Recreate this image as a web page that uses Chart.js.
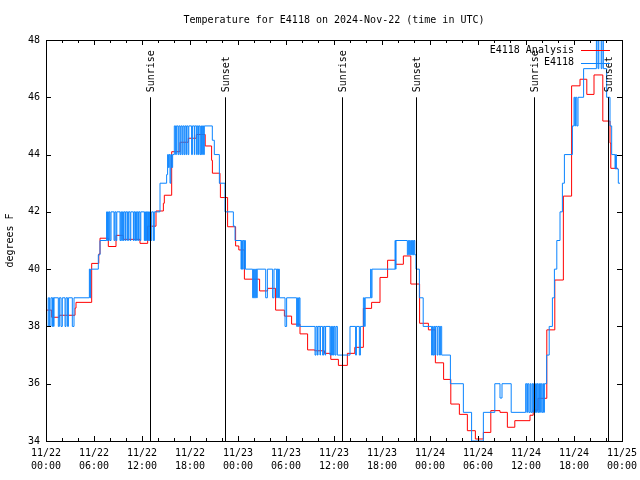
<!DOCTYPE html>
<html>
<head>
<meta charset="utf-8">
<script src="https://cdn.jsdelivr.net/npm/chart.js@4.4.1/dist/chart.umd.min.js"></script>
<style>
  html, body { margin: 0; padding: 0; background: #ffffff; }
  #wrap { width: 640px; height: 480px; }
</style>
</head>
<body>
<div id="wrap"><canvas id="c" width="640" height="480"></canvas></div>
<script>
// ---- Data (hours since 2024-11-22 00:00 UTC) ----
const obsTime = [0,0.08,0.29,0.45,0.62,0.79,0.85,0.95,1.0,1.54,1.67,1.88,2.04,2.38,2.5,2.7,2.8,3.29,3.5,
  5.42,5.5,5.58,6.54,6.75,7.58,7.65,7.72,7.79,7.9,8.0,8.13,8.5,8.6,8.75,8.85,9.25,9.35,9.46,9.55,9.67,9.75,9.92,10.0,
  10.2,10.3,10.5,10.6,10.92,11.0,11.13,11.2,11.33,11.4,11.54,11.6,11.75,11.85,12.29,12.35,12.42,12.5,12.58,12.67,
  12.79,12.85,12.92,13.0,13.08,13.21,13.42,13.54,14.25,15.08,15.2,15.3,15.4,15.5,15.6,15.7,15.83,16.04,16.2,16.3,
  16.5,16.6,16.75,16.85,17.0,17.1,17.25,17.35,17.5,17.58,17.75,17.85,18.2,18.3,18.54,18.6,18.83,18.9,19.04,19.1,
  19.25,19.35,19.45,19.55,19.7,19.79,20.79,21.04,21.67,22.38,23.42,23.63,24.38,24.45,24.55,24.65,24.79,24.85,24.92,
  25.83,25.95,26.05,26.2,26.33,26.4,27.46,27.67,28.33,28.5,28.83,28.9,29.0,29.05,29.17,29.88,30.08,31.33,31.45,31.55,
  31.65,31.75,33.63,33.75,33.92,34.0,34.25,34.3,34.58,34.7,34.88,34.95,35.5,35.6,35.7,35.8,35.92,36.0,36.13,36.25,
  36.42,38.0,38.7,38.8,39.17,39.3,39.67,39.8,39.9,40.58,40.65,40.75,43.63,43.7,43.75,45.17,45.3,45.45,45.58,45.7,
  45.8,45.92,46.0,46.1,46.25,46.67,47.15,48.2,48.3,48.4,48.5,48.6,48.7,48.9,49.0,49.2,49.3,49.46,50.55,52.17,53.2,
  54.67,56.1,56.75,57.0,58.15,59.96,60.1,60.2,60.35,60.5,60.6,60.75,60.85,60.95,61.1,61.2,61.3,61.4,61.5,61.6,61.7,
  61.8,61.96,62.1,62.2,62.3,62.58,62.9,63.3,63.55,63.85,64.25,64.55,64.8,65.8,66.0,66.1,66.2,66.35,66.5,67.2,68.8,
  68.9,69.0,69.1,69.2,69.3,69.4,69.5,69.67,70.08,70.5,70.71,71.13,71.2,71.3,71.54,71.75];
const obsTemp = [39,38,39,38,39,38,39,38,39,38,39,38,39,38,39,38,39,38,39,
  40,39,40,40.5,41,42,41,42,41,42,41,42,41,42,41,42,41,42,41,42,41,42,41,42,
  41,42,41,42,41,42,41,42,41,42,41,42,41,42,41,42,41,42,41,42,
  41,42,41,42,41,42,41,42,43,43.3,44,43.55,44,43,44,43.55,44,45,44,45,
  44,45,44,45,44,45,44,45,44,45,44,45,44,45,44,45,44,45,44,45,
  44,45,44,45,44,45,44.5,44,43,42,41.5,41,40,41,40,41,40,41,40,
  39,40,39,40,39,40,39,40,39,40,39,40,39,40,39,38,39,38,39,38,
  39,38,37,38,37,38,37,38,37,38,37,38,37,38,37,38,37,38,37,38,
  37,38,37,38,37,38,39,38,39,40,39,40,41,40,41,40.5,41,40.5,41,40.5,
  41,40.5,41,40.5,40,39,38,37,38,37,38,37,38,37,38,37,38,37,36,35,34,
  35,36,35.5,36,35,36,35,36,35,36,35,36,35,36,35,36,35,36,35,36,35,
  36,35,36,35,36,37,38,39,40,41,42,43,44,45,46,45,46,45,46,47,48,
  49,47,49,48,49,47,49,47,46,45,44,43.5,44,43.5,43,43];

const anaTime = [0,0.71,1.67,3.63,3.75,5.71,6.6,6.75,7.79,8.75,9.67,11.75,12.71,13.75,14.67,14.79,15.71,16.75,17.79,
  18.79,19.9,20.7,20.8,21.75,21.8,22.7,23.7,24.1,24.8,26.7,27.7,28.7,29.8,30.7,31.75,32.7,33.6,34.8,35.6,36.55,37.67,
  38.6,39.67,40.7,41.75,42.7,43.7,44.67,45.6,46.7,47.8,48.67,49.7,50.6,51.67,52.67,53.67,54.67,55.6,56.75,57.67,58.6,
  60.5,60.9,61.5,62.6,63.6,64.67,65.7,66.75,67.6,68.5,69.6,70.5,70.6,71.5];
const anaTemp = [38.57,38.32,38.39,38.64,38.84,40.2,40.53,41.08,40.79,41.18,41.04,40.9,41.5,42.03,42.3,42.58,44.1,44.43,44.57,
  44.7,44.3,43.8,43.35,42.97,42.5,41.48,40.81,40.67,39.65,39.24,39.33,38.57,38.36,38.08,37.74,37.18,37.15,37.06,36.85,36.64,37.06,
  37.27,38.63,38.84,39.71,40.31,40.17,40.46,39.48,38.11,37.88,36.73,36.15,35.29,34.93,34.36,34.07,34.3,35.06,35.0,34.48,34.71,
  34.9,35.08,35.49,37.88,39.62,42.55,46.4,46.63,46.1,46.78,45.17,44.4,43.52,43.52];

const sunTime  = [13.04, 22.4, 37.04, 46.27, 61.04, 70.3];
const sunLabel = ['Sunrise','Sunset','Sunrise','Sunset','Sunrise','Sunset'];
const sunFrom = 34, sunTo = 46;

const xTickHours = [0,6,12,18,24,30,36,42,48,54,60,66,72];
const xTickDates = ['11/22','11/22','11/22','11/22','11/23','11/23','11/23','11/23','11/24','11/24','11/24','11/24','11/25'];
const xTickTimes = ['00:00','06:00','12:00','18:00','00:00','06:00','12:00','18:00','00:00','06:00','12:00','18:00','00:00'];
const yTicks = [34,36,38,40,42,44,46,48];

const seriesNames = ['E4118 Analysis', 'E4118'];
const titleText = 'Temperature for E4118 on 2024-Nov-22 (time in UTC)';
const yTitle = 'degrees F';

const RED = '#ff0000', BLUE = '#0a84ff';
const FONT = '10px "DejaVu Sans Mono", "Liberation Mono", monospace';

Chart.defaults.font.family = '"DejaVu Sans Mono", "Liberation Mono", monospace';
Chart.defaults.font.size = 10;
Chart.defaults.color = '#000';

const decor = {
  id: 'decor',
  afterDatasetsDraw(chart) {
    const {ctx, chartArea: a, scales: {x, y}} = chart;
    ctx.save();
    ctx.strokeStyle = '#000';
    ctx.lineWidth = 1;
    ctx.fillStyle = '#000';
    ctx.font = FONT;
    // sunrise/sunset markers
    sunTime.forEach((t, i) => {
      const px = Math.round(x.getPixelForValue(t)) + 0.5;
      const yb = y.getPixelForValue(sunFrom), yt = y.getPixelForValue(sunTo);
      ctx.beginPath(); ctx.moveTo(px, yb); ctx.lineTo(px, yt); ctx.stroke();
      ctx.save();
      ctx.translate(px + 1, yt - 5);
      ctx.rotate(-Math.PI / 2);
      ctx.textAlign = 'left'; ctx.textBaseline = 'middle';
      ctx.fillText(sunLabel[i], 0, 0);
      ctx.restore();
    });
    // frame
    ctx.strokeRect(a.left + 0.5, a.top + 0.5, a.right - a.left, a.bottom - a.top);
    // x ticks (major 6h, minor 2h) bottom and top
    for (let h = 0; h <= 72; h += 2) {
      const px = Math.round(x.getPixelForValue(h)) + 0.5;
      const len = (h % 6 === 0) ? 5 : 3;
      ctx.beginPath();
      ctx.moveTo(px, a.bottom); ctx.lineTo(px, a.bottom - len);
      ctx.moveTo(px, a.top); ctx.lineTo(px, a.top + len);
      ctx.stroke();
    }
    // y ticks left and right
    yTicks.forEach(v => {
      const py = Math.round(y.getPixelForValue(v)) + 0.5;
      ctx.beginPath();
      ctx.moveTo(a.left, py); ctx.lineTo(a.left + 5, py);
      ctx.moveTo(a.right, py); ctx.lineTo(a.right - 5, py);
      ctx.stroke();
    });
    // title
    ctx.textAlign = 'center'; ctx.textBaseline = 'middle';
    ctx.fillText(titleText, (a.left + a.right) / 2, 20);
    // y title
    ctx.save();
    ctx.translate(10, (a.top + a.bottom) / 2);
    ctx.rotate(-Math.PI / 2);
    ctx.fillText(yTitle, 0, 0);
    ctx.restore();
    // legend
    const cols = [RED, BLUE];
    seriesNames.forEach((n, i) => {
      const ly = 50 + i * 12.5;
      ctx.textAlign = 'right'; ctx.textBaseline = 'middle';
      ctx.fillStyle = '#000';
      ctx.fillText(n, 574, ly);
      ctx.strokeStyle = cols[i];
      ctx.beginPath(); ctx.moveTo(581, Math.round(ly) + 0.5); ctx.lineTo(610, Math.round(ly) + 0.5); ctx.stroke();
    });
    ctx.restore();
  }
};

new Chart(document.getElementById('c'), {
  type: 'line',
  data: {
    datasets: [
      {
        label: seriesNames[1],
        data: obsTime.map((t, i) => ({x: t, y: obsTemp[i]})),
        borderColor: BLUE, borderWidth: 1, pointRadius: 0, stepped: 'before', fill: false
      },
      {
        label: seriesNames[0],
        data: anaTime.map((t, i) => ({x: t, y: anaTemp[i]})),
        borderColor: RED, borderWidth: 1, pointRadius: 0, stepped: 'before', fill: false
      }
    ]
  },
  options: {
    responsive: false,
    animation: false,
    devicePixelRatio: 1,
    layout: { padding: { top: 40, right: 18, left: 0, bottom: 0 } },
    plugins: { legend: { display: false }, title: { display: false }, tooltip: { enabled: false } },
    scales: {
      x: {
        type: 'linear', min: 0, max: 72,
        grid: { display: false, drawTicks: false },
        border: { display: false },
        ticks: {
          stepSize: 6, autoSkip: false, maxRotation: 0, minRotation: 0, padding: 6,
          font: { size: 10, lineHeight: 1.3 },
          callback: (v) => { const i = xTickHours.indexOf(v); return i >= 0 ? [xTickDates[i], xTickTimes[i]] : ''; }
        },
        afterFit: (s) => { s.height = 39; s.paddingLeft = 0; s.paddingRight = 0; }
      },
      y: {
        min: 34, max: 48,
        grid: { display: false, drawTicks: false },
        border: { display: false },
        ticks: { stepSize: 2, padding: 6, font: { size: 10 },
          callback: (v) => yTicks.includes(v) ? String(v) : '' },
        afterFit: (s) => { s.width = 46; }
      }
    }
  },
  plugins: [decor]
});
</script>
</body>
</html>
